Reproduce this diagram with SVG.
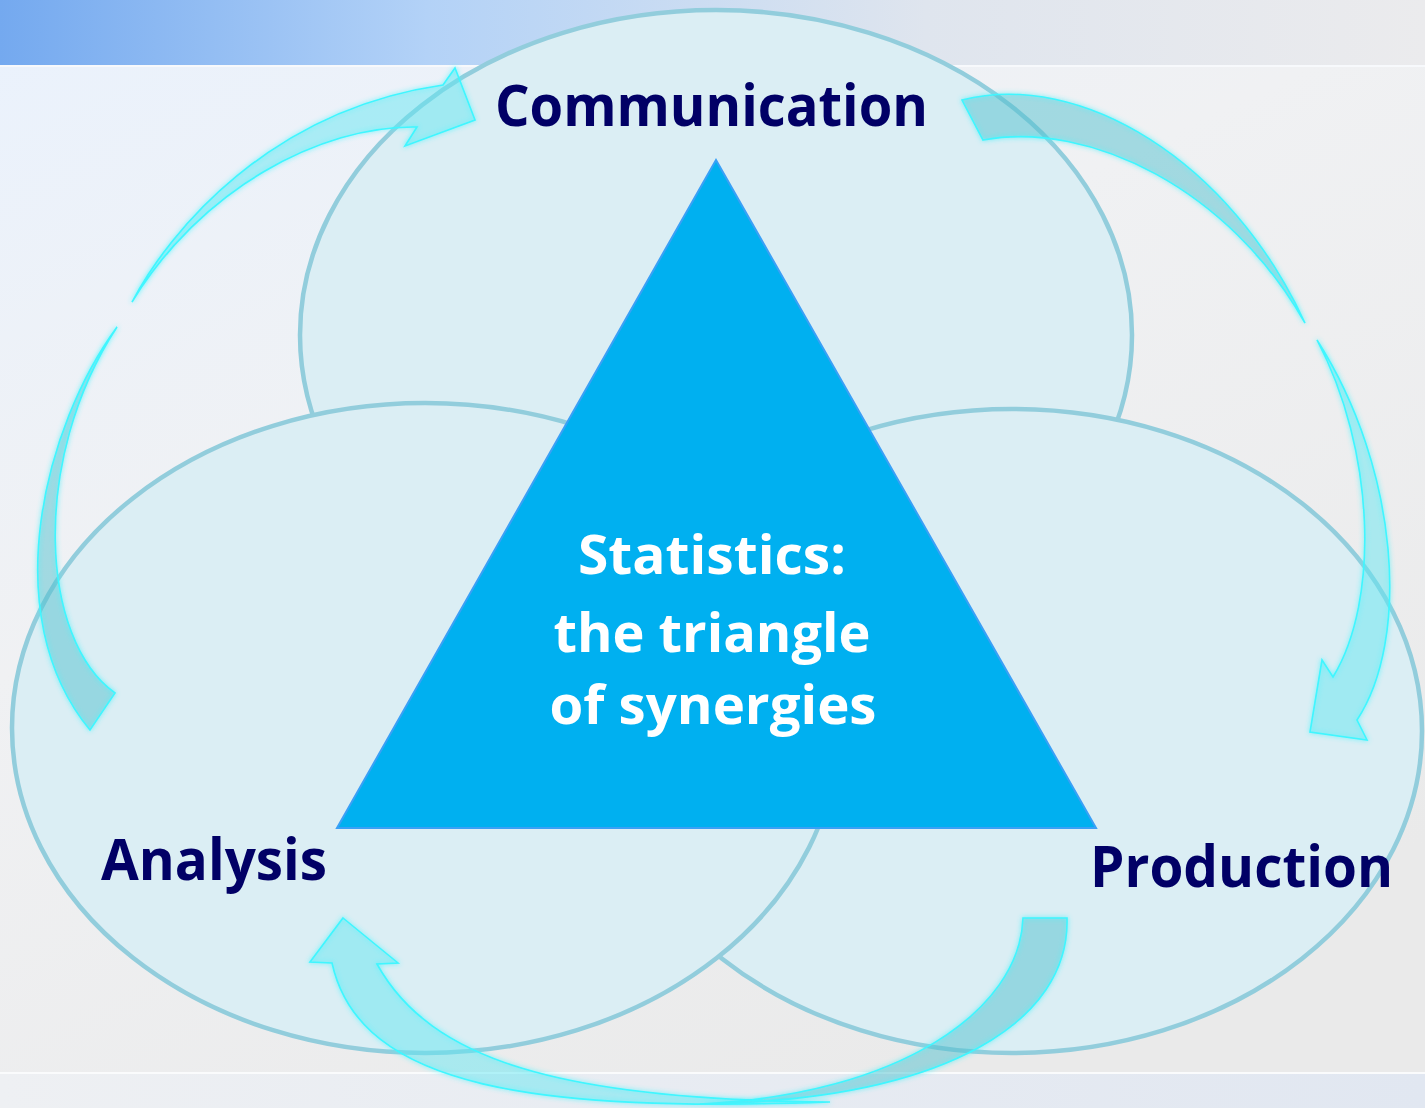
<svg xmlns="http://www.w3.org/2000/svg" width="1425" height="1108" viewBox="0 0 1425 1108">
<defs>
<linearGradient id="topband" x1="0" y1="0" x2="1" y2="0">
<stop offset="0" stop-color="#74a9ef"/>
<stop offset="0.3" stop-color="#b3d2f7"/>
<stop offset="0.65" stop-color="#dfe5ee"/>
<stop offset="1" stop-color="#ebebed"/>
</linearGradient>
<linearGradient id="main" x1="0" y1="0" x2="0.6" y2="1">
<stop offset="0" stop-color="#eaf2fd"/>
<stop offset="0.45" stop-color="#f0f1f3"/>
<stop offset="1" stop-color="#eaeaea"/>
</linearGradient>
<linearGradient id="botband" x1="0" y1="0" x2="1" y2="0">
<stop offset="0" stop-color="#eef0f3"/>
<stop offset="1" stop-color="#e1e7f1"/>
</linearGradient>
<filter id="glow" x="-10%" y="-10%" width="120%" height="120%">
<feGaussianBlur in="SourceGraphic" stdDeviation="2.5" result="b"/>
<feMerge><feMergeNode in="b"/><feMergeNode in="SourceGraphic"/></feMerge>
</filter>
<style>
.ell{fill:#dbeef4;stroke:#92cddc;stroke-width:4.5}
.lbl{font-family:"Open Sans","Liberation Sans",sans-serif;font-weight:bold;fill:#010066}
.ctr{font-family:"Open Sans","Liberation Sans",sans-serif;font-weight:bold;fill:#ffffff;text-anchor:middle}
.head{fill:#5fe6f0;fill-opacity:0.28;stroke:#3ff6ff;stroke-width:1.6}
.tail{fill:#4cc0cc;fill-opacity:0.28;stroke:#3ff6ff;stroke-width:1.6}
</style>
</defs>
<g id="background">
<rect x="0" y="0" width="1425" height="1108" fill="url(#main)"/>
<rect x="0" y="0" width="1425" height="65" fill="url(#topband)"/>
<rect x="0" y="65" width="1425" height="2" fill="#f7f9fc"/>
<rect x="0" y="1073" width="1425" height="35" fill="url(#botband)"/>
<rect x="0" y="1072" width="1425" height="2" fill="#fafbfc"/>
</g>
<g id="node-communication">
<ellipse class="ell" cx="716" cy="335" rx="416" ry="325"/>
</g>
<g id="node-production">
<ellipse class="ell" cx="1012" cy="731" rx="410" ry="322"/>
</g>
<g id="node-analysis">
<ellipse class="ell" cx="425" cy="728" rx="413" ry="325"/>
</g>
<g id="node-statistics">
<polygon points="716,160 1096,828 337,828" fill="#00b0f0" stroke="#3aa0f6" stroke-width="2"/>
<text class="ctr" x="712" y="574" font-size="54" textLength="268" lengthAdjust="spacingAndGlyphs">Statistics:</text>
<text class="ctr" x="712" y="652" font-size="54" textLength="317" lengthAdjust="spacingAndGlyphs">the triangle</text>
<text class="ctr" x="713" y="724" font-size="54" textLength="327" lengthAdjust="spacingAndGlyphs">of synergies</text>
</g>
<g id="labels">
<text class="lbl" x="495" y="126" font-size="58" textLength="433" lengthAdjust="spacingAndGlyphs">Communication</text>
<text class="lbl" x="101" y="880" font-size="58" textLength="226" lengthAdjust="spacingAndGlyphs">Analysis</text>
<text class="lbl" x="1090" y="887" font-size="58" textLength="303" lengthAdjust="spacingAndGlyphs">Production</text>
</g>
<g id="connectors" filter="url(#glow)">
<path class="head" d="M132,302 C170,230 270,110 443,85 L455,68 L475,120 L405,146 L417,127 C320,125 200,190 132,302 Z"/>
<path class="tail" d="M117,327 C45,425 -5,615 90,730 L115,693 C40,640 30,460 117,327 Z"/>
<path class="tail" d="M962,100 C1080,70 1230,160 1305,323 C1230,190 1090,120 983,140 Z"/>
<path class="head" d="M1317,340 C1400,470 1410,640 1357,720 L1367,740 L1310,732 L1322,660 L1333,677 C1380,600 1375,450 1317,340 Z"/>
<path class="tail" d="M1023,918 L1067,918 C1070,1020 950,1100 700,1104 C900,1095 1020,1010 1023,918 Z"/>
<path class="head" d="M343,918 L398,963 L377,964 C430,1060 560,1100 830,1102 C540,1112 360,1090 332,963 L310,962 Z"/>
</g>
</svg>
